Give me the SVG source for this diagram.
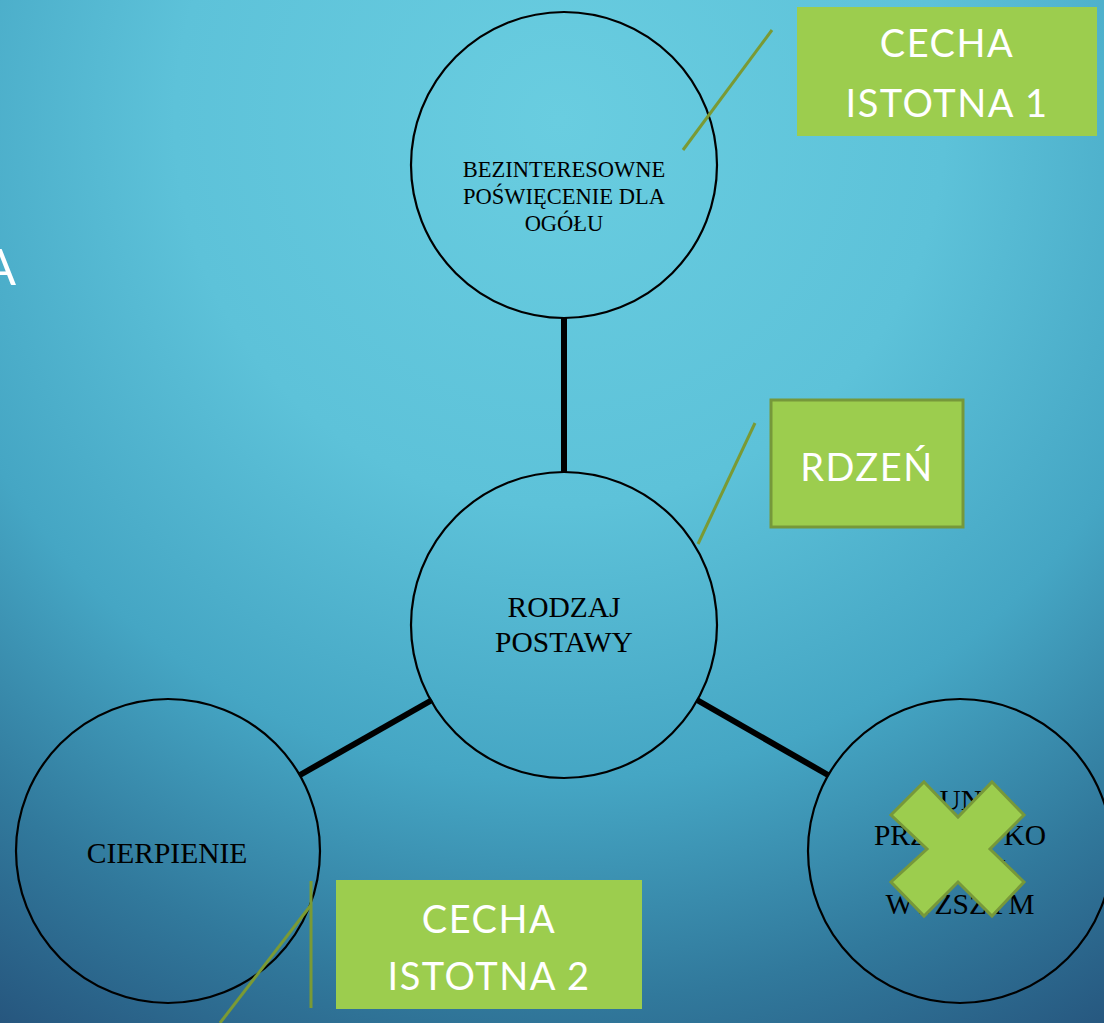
<svg xmlns="http://www.w3.org/2000/svg" width="1104" height="1023" viewBox="0 0 1104 1023">
<defs>
<radialGradient id="bg" cx="560" cy="120" r="1100" gradientUnits="userSpaceOnUse">
<stop offset="0" stop-color="#69cde0"/>
<stop offset="0.35" stop-color="#5dc2d9"/>
<stop offset="0.6" stop-color="#45a6c4"/>
<stop offset="0.8" stop-color="#31799c"/>
<stop offset="1" stop-color="#244f78"/>
</radialGradient>
<style>
.node{fill:none;stroke:#000;stroke-width:2.2}
.lbl{font-family:"Liberation Serif","Times New Roman",serif;fill:#000;text-anchor:middle}
.box{fill:#9ccd4e}
.btxt{font-family:Lato,"Open Sans",sans-serif;font-weight:400;fill:#fff;text-anchor:middle;font-size:38px;letter-spacing:1.5px}
.call{stroke:#7a9a34;stroke-width:3;fill:none}
.conn{stroke:#000;stroke-width:6}
</style>
</defs>
<rect width="1104" height="1023" fill="url(#bg)"/>
<text x="16" y="285" font-family="Lato,'Open Sans',sans-serif" font-size="50" fill="#fff" text-anchor="end">A</text>
<g id="connectors">
<line class="conn" x1="564" y1="318" x2="564" y2="472"/>
<line class="conn" x1="432" y1="700" x2="300" y2="775"/>
<line class="conn" x1="697" y1="700" x2="828" y2="775"/>
</g>
<g id="node-top">
<circle class="node" cx="564" cy="165" r="153"/>
<text class="lbl" font-size="22.5"><tspan x="564" y="177">BEZINTERESOWNE</tspan><tspan x="564" y="204">POŚWIĘCENIE DLA</tspan><tspan x="564" y="231">OGÓŁU</tspan></text>
</g>
<g id="node-center">
<circle class="node" cx="564" cy="625" r="153"/>
<text class="lbl" font-size="29.5"><tspan x="564" y="617">RODZAJ</tspan><tspan x="564" y="652">POSTAWY</tspan></text>
</g>
<g id="node-left">
<circle class="node" cx="168" cy="851" r="152"/>
<text class="lbl" font-size="29.5" x="167" y="863">CIERPIENIE</text>
</g>
<g id="node-right">
<circle class="node" cx="960" cy="851" r="152"/>
<text class="lbl" font-size="29.5"><tspan x="960" y="810">BUNT</tspan><tspan x="960" y="845">PRZECIWKO</tspan><tspan x="960" y="879">SIŁOM</tspan><tspan x="960" y="914">WYŻSZYM</tspan></text>
<polygon points="924,782 958,817 992,782 1024,815 990,849 1024,882 992,916 958,882 924,916 891,882 927,849 891,815" fill="#9ccd4e" stroke="#77983a" stroke-width="3" stroke-linejoin="miter"/>
</g>
<g id="callout-1">
<line class="call" x1="772" y1="30" x2="683" y2="150"/>
<rect class="box" x="797" y="7" width="300" height="129"/>
<text class="btxt"><tspan x="947" y="57">CECHA</tspan><tspan x="947" y="117">ISTOTNA 1</tspan></text>
</g>
<g id="callout-rdzen">
<line class="call" x1="755" y1="423" x2="698" y2="544"/>
<rect class="box" x="771" y="400" width="192" height="127" stroke="#76983a" stroke-width="3"/>
<text class="btxt" x="867" y="481">RDZEŃ</text>
</g>
<g id="callout-2">
<line class="call" x1="311" y1="881" x2="311" y2="1008"/>
<line class="call" x1="311" y1="905" x2="220" y2="1023"/>
<rect class="box" x="336" y="880" width="306" height="129"/>
<text class="btxt"><tspan x="489" y="933">CECHA</tspan><tspan x="489" y="990">ISTOTNA 2</tspan></text>
</g>
</svg>
